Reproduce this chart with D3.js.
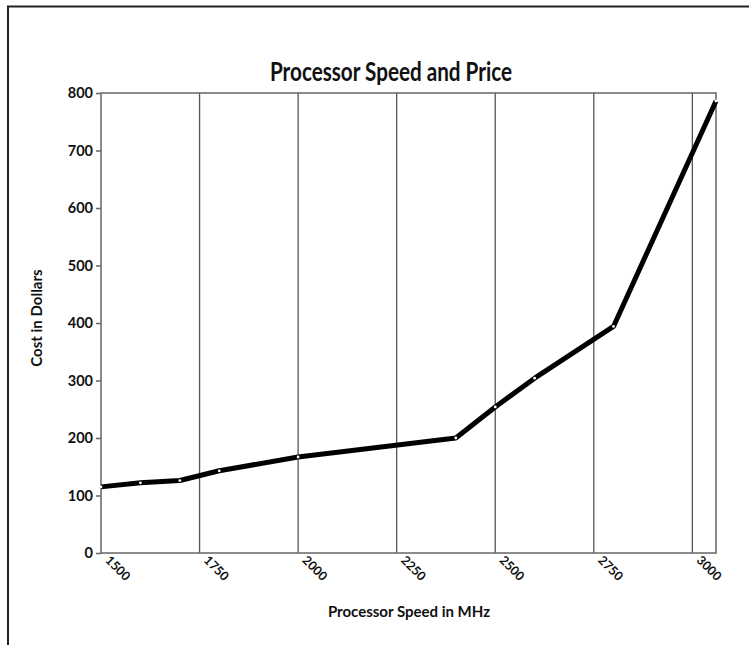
<!DOCTYPE html>
<html>
<head>
<meta charset="utf-8">
<script src="https://cdn.jsdelivr.net/npm/d3@7"></script>
<style>
  body { margin: 0; background: #fff; }
  text { font-family: Lato, "DejaVu Sans", sans-serif; font-weight: bold; fill: #111; }
</style>
</head>
<body>
<div id="chart"></div>
<script>
// processor speed (MHz) and cost (dollars)
var speeds = [1500, 1600, 1700, 1800, 2000, 2400, 2500, 2600, 2800, 3060];
var costs  = [115, 122, 126, 143, 167, 200, 254, 304, 394, 786];
var xTicks = [1500, 1750, 2000, 2250, 2500, 2750, 3000];
var yTicks = [0, 100, 200, 300, 400, 500, 600, 700, 800];

var W = 749, H = 645;
var margin = {top: 93, right: 33, bottom: 92, left: 101};
var w = W - margin.left - margin.right,
    h = H - margin.top - margin.bottom;

var svg = d3.select("#chart").append("svg")
    .attr("width", W)
    .attr("height", H);

// page border (top and left only, like the scan)
svg.append("line").attr("x1", 7).attr("x2", W).attr("y1", 6.5).attr("y2", 6.5)
    .attr("stroke", "#222").attr("stroke-width", 2);
svg.append("line").attr("x1", 8).attr("x2", 8).attr("y1", 6).attr("y2", H)
    .attr("stroke", "#222").attr("stroke-width", 2);

var x = d3.scaleLinear().domain([1500, 3060]).range([0, w]);
var y = d3.scaleLinear().domain([0, 800]).range([h, 0]);

var g = svg.append("g").attr("transform", "translate(" + margin.left + "," + margin.top + ")");

// vertical grid lines
g.selectAll(".grid").data(xTicks.slice(1)).enter().append("line")
    .attr("class", "grid")
    .attr("x1", function (d) { return x(d); })
    .attr("x2", function (d) { return x(d); })
    .attr("y1", 0).attr("y2", h)
    .attr("stroke", "#555").attr("stroke-width", 1.3);

// frame
g.append("rect").attr("width", w).attr("height", h)
    .attr("fill", "none").attr("stroke", "#666").attr("stroke-width", 1.5);

// y axis
var yAxis = g.append("g")
    .call(d3.axisLeft(y).tickValues(yTicks).tickSize(5).tickPadding(3));
yAxis.select(".domain").remove();
yAxis.selectAll("line").attr("stroke", "#666").attr("stroke-width", 1.5);
yAxis.selectAll("text").style("font-size", "14.5px");

// x axis
var xAxis = g.append("g").attr("transform", "translate(0," + h + ")")
    .call(d3.axisBottom(x).tickValues(xTicks).tickFormat(d3.format("d")).tickSize(0).tickPadding(0));
xAxis.select(".domain").remove();
xAxis.selectAll("text")
    .attr("text-anchor", "start")
    .attr("dy", "0")
    .attr("transform", "translate(3,8) rotate(45)")
    .style("font-size", "12.5px");

// line
var line = d3.line()
    .x(function (d, i) { return x(speeds[i]); })
    .y(function (d) { return y(d); });

g.append("path").datum(costs)
    .attr("d", line)
    .attr("fill", "none")
    .attr("stroke", "#000")
    .attr("stroke-width", 5)
    .attr("stroke-linejoin", "round");

g.selectAll(".pt").data(costs).enter().append("circle")
    .attr("class", "pt")
    .attr("cx", function (d, i) { return x(speeds[i]); })
    .attr("cy", function (d) { return y(d); })
    .attr("r", 1.4)
    .attr("fill", "#fff");

// titles
svg.append("text")
    .attr("x", 391).attr("y", 81)
    .attr("text-anchor", "middle")
    .attr("textLength", 242)
    .attr("lengthAdjust", "spacingAndGlyphs")
    .style("font-size", "27px")
    .text("Processor Speed and Price");

svg.append("text")
    .attr("x", 409).attr("y", 617)
    .attr("text-anchor", "middle")
    .style("font-size", "15px")
    .text("Processor Speed in MHz");

svg.append("text")
    .attr("transform", "translate(42,318) rotate(-90)")
    .attr("text-anchor", "middle")
    .style("font-size", "15px")
    .text("Cost in Dollars");
</script>
</body>
</html>
